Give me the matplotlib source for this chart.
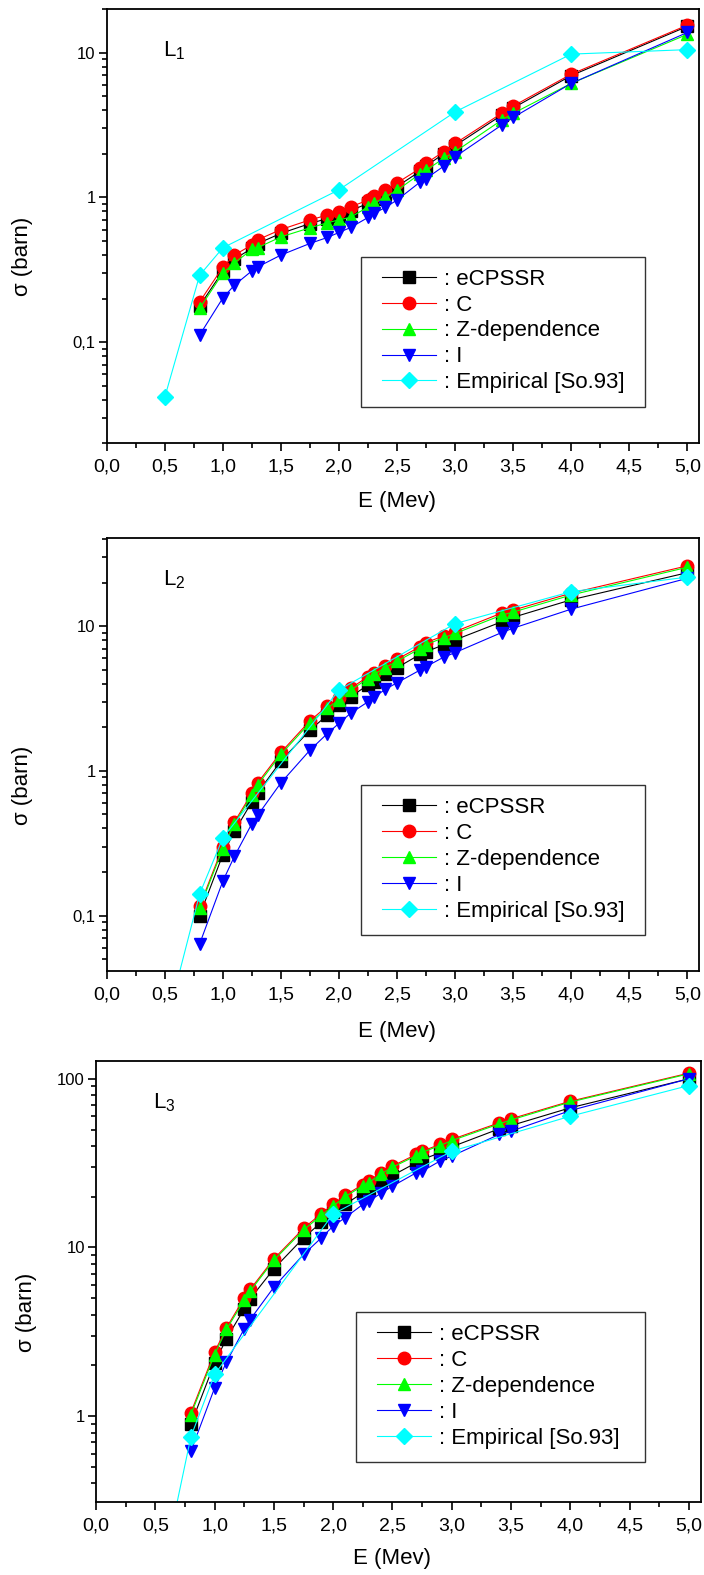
import numpy as np
import matplotlib
matplotlib.use('Agg')
import matplotlib.pyplot as plt
from matplotlib import font_manager
from matplotlib.patches import Rectangle
from matplotlib.ticker import LogLocator, MultipleLocator, FuncFormatter, NullFormatter

################### donnees ##############################

E = [0.8, 1.0, 1.1, 1.25, 1.3, 1.5, 1.75, 1.9, 2.0, 2.1, 2.25, 2.3, 2.4, 2.5,
     2.7, 2.75, 2.9, 3.0, 3.4, 3.5, 4.0, 5.0]
E_emp = [0.5, 0.8, 1.0, 2.0, 3.0, 4.0, 5.0]

# L1
L1_ecpssr = [0.178, 0.31, 0.375, 0.445, 0.48, 0.565, 0.66, 0.715, 0.75, 0.81, 0.91, 0.97,
             1.06, 1.19, 1.52, 1.65, 2.0, 2.28, 3.7, 4.15, 6.95, 15.2]
L1_c = [0.19, 0.33, 0.40, 0.47, 0.51, 0.60, 0.70, 0.755, 0.795, 0.86, 0.96, 1.02,
        1.12, 1.26, 1.59, 1.72, 2.07, 2.36, 3.81, 4.28, 7.11, 15.5]
L1_z = [0.171, 0.30, 0.353, 0.437, 0.45, 0.534, 0.617, 0.668, 0.70, 0.73, 0.86, 0.91,
        1.01, 1.12, 1.46, 1.54, 1.86, 2.07, 3.42, 3.81, 6.14, 13.4]
L1_i = [0.112, 0.202, 0.248, 0.311, 0.331, 0.40, 0.481, 0.529, 0.573, 0.62, 0.727, 0.775,
        0.853, 0.96, 1.28, 1.35, 1.64, 1.91, 3.16, 3.57, 6.14, 13.8]
L1_emp = [0.0417, 0.29, 0.449, 1.13, 3.9, 9.78, 10.5]

# L2
L2_ecpssr = [0.10, 0.264, 0.383, 0.61, 0.704, 1.17, 1.91, 2.43, 2.85, 3.25, 3.92, 4.13,
             4.65, 5.16, 6.39, 6.66, 7.41, 8.03, 10.7, 11.5, 15.2, 23.4]
L2_c = [0.116, 0.30, 0.444, 0.70, 0.826, 1.34, 2.22, 2.80, 3.17, 3.72, 4.47, 4.77,
        5.33, 5.9, 7.21, 7.69, 8.55, 9.16, 12.3, 12.9, 16.9, 26.1]
L2_z = [0.113, 0.29, 0.43, 0.68, 0.80, 1.30, 2.15, 2.72, 3.08, 3.61, 4.34, 4.63,
        5.17, 5.72, 7.0, 7.46, 8.3, 8.89, 11.9, 12.5, 16.4, 25.5]
L2_i = [0.0637, 0.173, 0.257, 0.432, 0.493, 0.826, 1.39, 1.81, 2.13, 2.50, 3.0, 3.22,
        3.66, 4.06, 4.98, 5.25, 6.09, 6.56, 9.02, 9.67, 13.1, 21.4]
L2_emp = [0.0163, 0.141, 0.344, 3.62, 10.4, 17.3, 21.8]

# L3
L3_ecpssr = [0.893, 2.07, 2.88, 4.33, 4.96, 7.48, 11.4, 14.1, 16.2, 18.0, 21.1, 22.1,
             24.4, 26.7, 31.8, 33.2, 36.4, 39.5, 50.5, 52.8, 67.3, 100.0]
L3_c = [1.05, 2.40, 3.34, 5.03, 5.64, 8.57, 12.97, 15.9, 18.0, 20.4, 23.6, 24.7,
        27.7, 30.4, 35.6, 37.2, 40.8, 43.7, 54.8, 57.9, 73.6, 108.0]
L3_z = [1.02, 2.32, 3.27, 4.87, 5.51, 8.41, 12.7, 15.5, 17.6, 20.0, 23.2, 24.2,
        27.2, 29.9, 35.0, 36.6, 40.2, 43.0, 54.0, 57.0, 72.8, 107.0]
L3_i = [0.62, 1.47, 2.09, 3.30, 3.74, 5.82, 9.09, 11.4, 13.4, 15.0, 18.0, 18.8,
        20.9, 23.1, 27.7, 28.3, 32.5, 34.8, 46.8, 48.9, 64.8, 100.0]
L3_emp = [0.075, 0.755, 1.77, 15.8, 37.2, 60.0, 91.2]

labels = [': eCPSSR', ': C', ': Z-dependence', ': I', ': Empirical [So.93]']
couleurs = ['black', 'red', '#00ff00', 'blue', 'cyan']
marqueurs = ['s', 'o', '^', 'v', 'D']

################### polices ##############################

noms = {f.name for f in font_manager.fontManager.ttflist}
police = 'Liberation Sans' if 'Liberation Sans' in noms else 'DejaVu Sans'
plt.rcParams['font.family'] = police
plt.rcParams['mathtext.fontset'] = 'custom'
plt.rcParams['mathtext.rm'] = police


def virgule(v, pos):
    if v >= 1:
        return '%d' % round(v)
    return ('%g' % v).replace('.', ',')


def panneau(fig, rect, series, emp, ylim, nom):
    ax = fig.add_axes(rect)
    for k in range(4):
        ax.plot(E, series[k], color=couleurs[k], marker=marqueurs[k], ms=9,
                lw=0.8, label=labels[k])
    ax.plot(E_emp, emp, color=couleurs[4], marker=marqueurs[4], ms=8.5,
            lw=0.8, label=labels[4])
    ax.set_yscale('log')
    ax.set_xlim(0, 5.1)
    ax.set_ylim(*ylim)
    ax.yaxis.set_major_locator(LogLocator(base=10))
    ax.yaxis.set_minor_locator(LogLocator(base=10, subs=np.arange(2, 10)))
    ax.yaxis.set_major_formatter(FuncFormatter(virgule))
    ax.yaxis.set_minor_formatter(NullFormatter())
    ax.xaxis.set_major_locator(MultipleLocator(0.5))
    ax.xaxis.set_minor_locator(MultipleLocator(0.25))
    ax.xaxis.set_major_formatter(FuncFormatter(lambda v, p: ('%.1f' % v).replace('.', ',')))
    ax.tick_params(which='both', direction='out', top=False, right=False, width=1.2)
    ax.tick_params(which='major', length=6)
    ax.tick_params(which='minor', length=3.5)
    ax.tick_params(axis='y', labelsize=12, pad=2)
    ax.tick_params(axis='x', labelsize=14, pad=5)
    for s in ax.spines.values():
        s.set_linewidth(1.3)
    ax.set_xlabel('E (Mev)', fontsize=16)
    ax.set_ylabel('σ (barn)', fontsize=16)
    ax.text(0.095, 0.892, nom, transform=ax.transAxes, fontsize=16)

    # cadre de legende dessine a part (plus large que le contenu, comme Origin)
    bb = ax.get_position()
    axw = bb.width * 704
    axh = bb.height * 1575
    x0, ytop = 0.43, 0.43
    h = 150 / axh
    ax.add_patch(Rectangle((x0, ytop - h), 0.478, h, transform=ax.transAxes,
                           facecolor='white', edgecolor='#333333', lw=1.0, zorder=5))
    leg = ax.legend(loc='upper left', bbox_to_anchor=(x0 + 21 / axw, ytop - 12 / axh),
                    fontsize=16, frameon=False,
                    handlelength=2.43, handletextpad=0.36, labelspacing=0.22,
                    borderpad=0, borderaxespad=0)
    leg.set_zorder(6)
    return ax


fig = plt.figure(figsize=(7.04, 15.75), dpi=100)

ax1 = panneau(fig, [0.1516, 0.7185, 0.8413, 0.2757],
              [L1_ecpssr, L1_c, L1_z, L1_i], L1_emp, (0.02, 20), r'$\mathregular{L_1}$')
ax1.yaxis.set_label_coords(-0.124, 0.43)
ax1.xaxis.set_label_coords(0.49, -0.11)

ax2 = panneau(fig, [0.1516, 0.3835, 0.8413, 0.2747],
              [L2_ecpssr, L2_c, L2_z, L2_i], L2_emp, (0.0414, 40.4), r'$\mathregular{L_2}$')
ax2.yaxis.set_label_coords(-0.124, 0.43)
ax2.xaxis.set_label_coords(0.49, -0.115)

ax3 = panneau(fig, [0.1364, 0.04635, 0.859, 0.2802],
              [L3_ecpssr, L3_c, L3_z, L3_i], L3_emp, (0.31, 128), r'$\mathregular{L_3}$')
ax3.yaxis.set_label_coords(-0.098, 0.43)
ax3.xaxis.set_label_coords(0.49, -0.105)

fig.savefig('out.png', dpi=100)
plt.close(fig)
